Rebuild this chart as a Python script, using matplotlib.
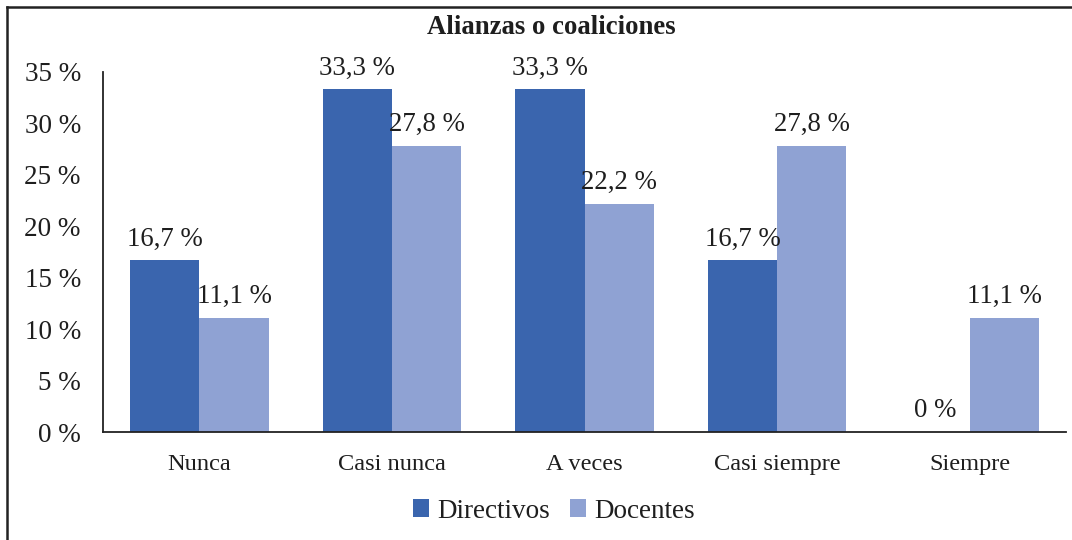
import numpy as np
import matplotlib.pyplot as plt
from matplotlib.lines import Line2D

plt.rcParams['font.family'] = ['Liberation Serif', 'DejaVu Serif']

categorias = ['Nunca', 'Casi nunca', 'A veces', 'Casi siempre', 'Siempre']
directivos = [16.7, 33.3, 33.3, 16.7, 0]
docentes = [11.1, 27.8, 22.2, 27.8, 11.1]
yticks = [0, 5, 10, 15, 20, 25, 30, 35]

c_dir = '#3A65AE'
c_doc = '#8FA2D3'

fig = plt.figure(figsize=(10.72, 5.4), dpi=100)
ax = fig.add_axes([103 / 1072, 0.2, (1066 - 103) / 1072, 0.8667 - 0.2])

x = np.arange(len(categorias))
w = 0.36
b1 = ax.bar(x - w / 2, directivos, w, color=c_dir, label='Directivos')
b2 = ax.bar(x + w / 2, docentes, w, color=c_doc, label='Docentes')

def fmt(v):
    s = ('%.1f' % v).replace('.', ',')
    if v == 0:
        s = '0'
    return s + ' %'

for bars, vals in ((b1, directivos), (b2, docentes)):
    for r, v in zip(bars, vals):
        ax.text(r.get_x() + r.get_width() / 2, v + 0.85, fmt(v),
                ha='center', va='bottom', fontsize=19.3, color='#1e1e1e')

ax.set_xlim(-0.5, len(categorias) - 0.5)
ax.set_ylim(0, 35)
ax.set_yticks(yticks)
ax.set_yticklabels(['%d %%' % t for t in yticks], fontsize=19.5, color='#1e1e1e')
ax.set_xticks(x)
ax.set_xticklabels(categorias, fontsize=17.6, color='#1e1e1e')
ax.tick_params(axis='y', length=0, pad=16)
ax.tick_params(axis='x', length=0, pad=16)
for s in ['top', 'right']:
    ax.spines[s].set_visible(False)
ax.spines['left'].set_linewidth(1.3)
ax.spines['bottom'].set_linewidth(1.3)
ax.spines['left'].set_color('#222222')
ax.spines['bottom'].set_color('#222222')

fig.text(551 / 1072, 1 - 27 / 540, 'Alianzas o coaliciones', ha='center', va='center',
         fontsize=19.3, fontweight='bold', color='#1e1e1e')

leg = fig.legend(handles=[b1, b2], loc='center', bbox_to_anchor=(554 / 1072, 1 - 511 / 540),
                 ncol=2, frameon=False, fontsize=19.5, handlelength=0.6, handleheight=0.6,
                 handletextpad=0.3, columnspacing=0.75)
for t in leg.get_texts():
    t.set_color('#1e1e1e')

# marco de la figura
fig.add_artist(Line2D([7 / 1072, 7 / 1072], [0, 1 - 7 / 540], transform=fig.transFigure,
                      color='#222222', lw=1.8))
fig.add_artist(Line2D([7 / 1072, 1], [1 - 7 / 540, 1 - 7 / 540], transform=fig.transFigure,
                      color='#222222', lw=1.8))

fig.savefig('out.png', dpi=100)
